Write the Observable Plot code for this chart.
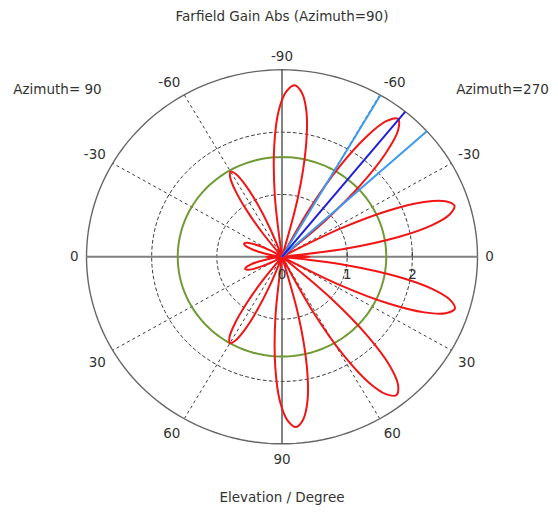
<!DOCTYPE html>
<html><head><meta charset="utf-8">
<script src="https://cdn.jsdelivr.net/npm/d3@7"></script>
<script src="https://cdn.jsdelivr.net/npm/@observablehq/plot@0.6"></script>
<style>body{margin:0;background:#fff;}</style>
</head><body><div id="chart"></div>
<script>
// Red farfield pattern: polar angle (deg, counter-clockwise from the right "0") and gain (linear)
const redAngle = [
 -3, -1.5, 0, 1.5, 3,
 5.2, 7.6, 10.0, 12.4, 14.8, 17.2, 19.6, 22.0, 24.4, 26.8, 29.2,
 38.7, 41.2, 43.7, 46.2, 48.7, 51.2, 53.7, 56.2, 58.7, 61.2, 63.7,
 73, 75.6, 78.2, 80.8, 83.4, 86, 88.6, 91.2, 93.8, 96.4, 99,
 110, 112, 114, 116, 118, 120, 122, 124, 126, 128, 130,
 148, 150.4, 152.8, 155.2, 157.6, 160, 162.4, 164.8, 167.2, 169.6, 172,
 177, 178.5, 180, 181.5, 183,
 187, 189.4, 191.8, 194.2, 196.6, 199, 201.4, 203.8, 206.2, 208.6, 211,
 230, 232, 234, 236, 238, 240, 242, 244, 246, 248, 250,
 261.5, 264.1, 266.7, 269.3, 271.9, 274.5, 277.1, 279.7, 282.3, 284.9, 287.5,
 295.9, 298.4, 300.9, 303.4, 305.9, 308.4, 310.9, 313.4, 315.9, 318.4, 320.9,
 330.6, 333, 335.4, 337.8, 340.2, 342.6, 345, 347.4, 349.8, 352.2, 354.6,
 357
];
const redGain = [
 0, 0.30, 0.43, 0.30, 0,
 0, 1.00, 1.80, 2.35, 2.66, 2.77, 2.66, 2.35, 1.80, 1.00, 0,
 0, 0.88, 1.68, 2.30, 2.70, 2.84, 2.70, 2.30, 1.68, 0.88, 0,
 0, 0.99, 1.79, 2.35, 2.65, 2.76, 2.65, 2.35, 1.79, 0.99, 0,
 0, 0.49, 0.93, 1.28, 1.50, 1.58, 1.50, 1.28, 0.93, 0.49, 0,
 0, 0.19, 0.37, 0.50, 0.59, 0.62, 0.59, 0.50, 0.37, 0.19, 0,
 0, 0.17, 0.24, 0.17, 0,
 0, 0.19, 0.35, 0.49, 0.57, 0.60, 0.57, 0.49, 0.35, 0.19, 0,
 0, 0.50, 0.94, 1.30, 1.52, 1.60, 1.52, 1.30, 0.94, 0.50, 0,
 0, 0.99, 1.78, 2.33, 2.63, 2.74, 2.63, 2.33, 1.78, 0.99, 0,
 0, 1.02, 1.84, 2.41, 2.72, 2.83, 2.72, 2.41, 1.84, 1.02, 0,
 0, 1.00, 1.81, 2.36, 2.67, 2.78, 2.67, 2.36, 1.81, 1.00, 0,
 0
];
// Main lobe direction and 3 dB beamwidth limits (polar angle, deg)
const mainLobeAngle = 50.9;
const beamEdgeAngles = [42.2, 59.8];
const sideLobeLevel = 1.6;          // green circle
const gridRadii = [1, 2];
const outerRadius = 3;
const radialTickValues = [0, 1, 2];
const spokeAngles = [30, 60, 120, 150, 210, 240, 300, 330];
// Elevation tick labels around the rim, with their polar angles
const elevLabels = ["-90", "-60", "-30", "0", "30", "60", "90", "60", "30", "0", "-30", "-60"];
const elevLabelAngles = [90, 60, 30, 0, -30, -60, -90, -120, -150, 180, 150, 120];
const titleText = "Farfield Gain Abs (Azimuth=90)";
const leftSideText = "Azimuth= 90";
const rightSideText = "Azimuth=270";
const axisTitle = "Elevation / Degree";

const rad = d => d * Math.PI / 180;
const pol = (a, r) => ({x: r * Math.cos(rad(a)), y: r * Math.sin(rad(a))});
const circle = r => d3.range(0, 361, 2).map(a => pol(a, r));

const red = redAngle.map((a, i) => pol(a, redGain[i]));
red.push(red[0]);

const spokes = spokeAngles.map(a => ({...pol(a, outerRadius), x0: 0, y0: 0}));
const beamLines = beamEdgeAngles.map(a => ({...pol(a, outerRadius), x0: 0, y0: 0}));
const mainLine = [{...pol(mainLobeAngle, outerRadius), x0: 0, y0: 0}];

// rim labels: anchored by the corner nearest the rim
const rimLabels = elevLabels.map((t, i) => {
  const a = elevLabelAngles[i];
  const c = Math.cos(rad(a)), s = Math.sin(rad(a));
  const ta = c > 0.1 ? "start" : c < -0.1 ? "end" : "middle";
  const la = s > 0.1 ? "bottom" : s < -0.1 ? "top" : "middle";
  return {...pol(a, 3.12), t, key: ta + "|" + la};
});
const rimGroups = d3.groups(rimLabels, d => d.key);
const rTicks = radialTickValues.map(v => ({x: v, t: String(v)}));

const chart = Plot.plot({
  width: 558, height: 514,
  marginLeft: 86, marginRight: 81, marginTop: 69.3, marginBottom: 70.7,
  x: {domain: [-3, 3], axis: null},
  y: {domain: [-3, 3], axis: null},
  style: {fontFamily: "DejaVu Sans", fontSize: "13px", color: "#333", background: "#fff"},
  marks: [
    ...gridRadii.map(r => Plot.line(circle(r), {x: "x", y: "y", stroke: "#3a3a3a", strokeWidth: 1, strokeDasharray: "3,3"})),
    Plot.link(spokes, {x1: "x0", y1: "y0", x2: "x", y2: "y", stroke: "#3a3a3a", strokeWidth: 1, strokeDasharray: "3,3"}),
    Plot.line(circle(outerRadius), {x: "x", y: "y", stroke: "#666", strokeWidth: 1.4}),
    Plot.link([{x1: -3, y1: 0, x2: 3, y2: 0}], {x1: "x1", y1: "y1", x2: "x2", y2: "y2", stroke: "#808080", strokeWidth: 2}),
    Plot.link([{x1: 0, y1: -3, x2: 0, y2: 3}], {x1: "x1", y1: "y1", x2: "x2", y2: "y2", stroke: "#5a5a5a", strokeWidth: 1.5}),
    Plot.link(rTicks.filter(d => d.x > 0), {x1: "x", x2: "x", y1: () => 0, y2: () => 0.08, stroke: "#444", strokeWidth: 1.3}),
    Plot.line(circle(sideLobeLevel), {x: "x", y: "y", stroke: "#6f9a35", strokeWidth: 2}),
    Plot.line(red, {x: "x", y: "y", stroke: "#f21515", strokeWidth: 2, curve: "catmull-rom"}),
    Plot.link(beamLines, {x1: "x0", y1: "y0", x2: "x", y2: "y", stroke: "#3a9af0", strokeWidth: 2}),
    Plot.link(mainLine, {x1: "x0", y1: "y0", x2: "x", y2: "y", stroke: "#2020d8", strokeWidth: 2}),
    Plot.text(rTicks, {x: "x", y: () => 0, text: "t", dy: 18, fill: "#333", fontSize: 14}),
    ...rimGroups.map(([key, rows]) => {
      const [ta, la] = key.split("|");
      const dy = la === "top" ? 3 : la === "bottom" ? -1 : 0;
      return Plot.text(rows, {x: "x", y: "y", text: "t", textAnchor: ta, lineAnchor: la, dy, fill: "#333", fontSize: 13.5});
    }),
    Plot.text([titleText], {frameAnchor: "top", dy: -58, fill: "#333", fontSize: 13.5}),
    Plot.text([leftSideText], {frameAnchor: "top-left", textAnchor: "middle", dx: -29, dy: 15, fill: "#333", fontSize: 13.5}),
    Plot.text([rightSideText], {frameAnchor: "top-right", textAnchor: "middle", dx: 25, dy: 15, fill: "#333", fontSize: 13.5}),
    Plot.text([axisTitle], {frameAnchor: "bottom", dy: 58, fill: "#333", fontSize: 13.5})
  ]
});
document.getElementById("chart").appendChild(chart);
</script>
</body></html>
